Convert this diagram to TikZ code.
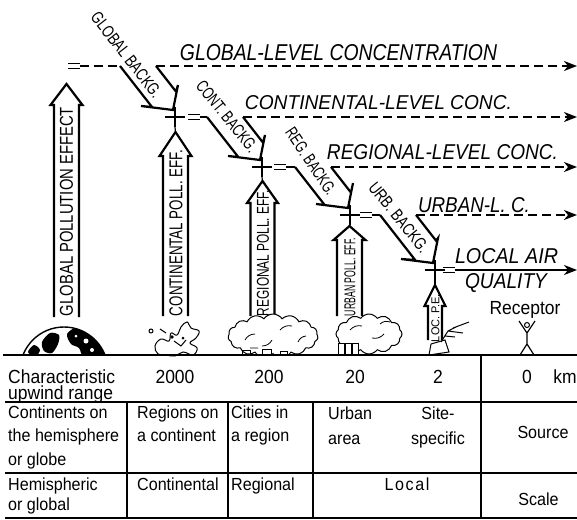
\documentclass[tikz,border=0pt]{standalone}
\usepackage{fontspec}
\setmainfont{Liberation Sans}[FakeStretch=0.92]
\usepackage{graphicx}
\usetikzlibrary{arrows.meta,calc,shapes.symbols}

\tikzset{
  conc/.style={line width=2.3pt, dash pattern=on 9pt off 5pt},
  endtip/.style={-{Stealth[length=13pt,width=10pt,inset=4pt]}},
  backg/.style={line width=2.2pt, line join=miter},
  effect/.style={line width=2.2pt},
  sign/.style={line width=1.2pt},
  plussign/.style={inner sep=0pt, minimum size=20pt},
  equal/.style={inner sep=0pt, minimum width=11pt, minimum height=4.5pt},
  tableline/.style={line width=1.6pt},
  cell/.style={inner sep=0pt, font=\fontsize{17.5}{20}\selectfont},
  lbl/.style={inner sep=0pt},
  smog/.style={cloud, draw, fill=white, line width=1pt, cloud puffs=15,
    cloud puff arc=110, cloud ignores aspect},
}

\begin{document}
\begin{tikzpicture}[x=1pt, y=-1pt]
\useasboundingbox (0,0) rectangle (577,519);

% sums where one level feeds the next
\node[equal] (eqG) at (74,66) {};
\node[plussign] (plusC) at (175,117) {};
\node[equal] (eqC) at (194,117) {};
\node[plussign] (plusR) at (262,167) {};
\node[equal] (eqR) at (280,167) {};
\node[plussign] (plusU) at (350,215) {};
\node[equal] (eqU) at (366,215) {};
\node[plussign] (plusL) at (435,270) {};
\node[equal] (eqL) at (449,270) {};
\foreach \n in {plusC,plusR,plusU,plusL}
  \draw[sign] (\n.north) -- (\n.south) (\n.west) -- (\n.east);
\foreach \n in {eqG,eqC,eqR,eqU,eqL}
  \draw[sign] (\n.north west) -- (\n.north east) (\n.south west) -- (\n.south east);

% background arrows coming down from each level
\foreach \p/\dy in {plusC/51, plusR/50, plusU/48, plusL/55} {
  \coordinate (\p-l) at ($(\p)+(-55,-\dy)$);
  \coordinate (\p-r) at ($(\p)+(-19,-\dy)$);
  \draw[backg] (\p-l) -- ($(\p)+({-55+(\dy-10)/1.28},-10)$) -- ($(\p)+(-34,-11)$)
    -- ($(\p)+(-2,-7)$) -- ($(\p)+(3,-32)$) -- ($(\p)+(1,{25.6-\dy})$) -- (\p-r);
}

% concentration levels
\coordinate (endG) at (577,66);
\coordinate (endC) at (577,117);
\coordinate (endR) at (577,167);
\coordinate (endU) at (577,215);
\coordinate (endL) at (577,270);
\draw[conc] (eqG) -- (plusC-l);
\draw[conc,endtip] (plusC-r) -- (endG);
\draw[backg] (eqC) -- (plusR-l);
\draw[conc,endtip] (plusR-r) -- (endC);
\draw[backg] (eqR) -- (plusU-l);
\draw[conc,endtip] (plusU-r) -- (endR);
\draw[backg] (eqU) -- (plusL-l);
\draw[conc,endtip] (plusL-r) -- (endU);
\draw[backg,endtip] (eqL) -- (endL);

% pollution effects going up
\foreach \n/\xm/\hw/\yb/\yh/\yt in {G/66.5/12.5/317/105/84, C/175.5/12.5/316/156/132,
    R/262.5/12/316/203/181, U/349.5/12.5/316/240/226, L/435/7/340/306/285} {
  \coordinate (tip\n) at (\xm,\yt);
  \draw[effect] ({\xm-\hw},\yb) -- ({\xm-\hw},\yh) -- ({\xm-\hw-3.5},\yh) -- (tip\n)
    -- ({\xm+\hw+3.5},\yh) -- ({\xm+\hw},\yh) -- ({\xm+\hw},\yb);
}
\foreach \n/\t in {plusC/tipC, plusR/tipR, plusU/tipU, plusL/tipL}
  \draw[sign] (\n.south) -- (\t);

% level names
\node[lbl] (lvG) at (338.5,53) {\resizebox{317pt}{16pt}{\itshape GLOBAL-LEVEL CONCENTRATION}};
\node[lbl] (lvC) at (378.5,103) {\resizebox{267pt}{14pt}{\itshape CONTINENTAL-LEVEL CONC.}};
\node[lbl] (lvR) at (442.5,152) {\resizebox{231pt}{15pt}{\itshape REGIONAL-LEVEL CONC.}};
\node[lbl] (lvU) at (474,205.5) {\resizebox{112pt}{15pt}{\itshape URBAN-L. C.}};
\node[lbl] (lvL) at (506.5,256.5) {\resizebox{103pt}{15pt}{\itshape LOCAL AIR}};
\node[lbl] (lvQ) at (506,283) {\resizebox{82pt}{15pt}{\itshape QUALITY}};

% arrow texts
\node[lbl, rotate=-52] (bgG) at (126.5,55) {\resizebox{104pt}{12pt}{GLOBAL BACKG.}};
\node[lbl, rotate=-51] (bgC) at (227,116.5) {\resizebox{87pt}{12pt}{CONT. BACKG.}};
\node[lbl, rotate=-56] (bgR) at (311,161.5) {\resizebox{77pt}{12pt}{REG. BACKG.}};
\node[lbl, rotate=-51] (bgU) at (399,217.5) {\resizebox{85pt}{12pt}{URB. BACKG.}};
\node[lbl, rotate=90] (efG) at (66.5,211.5) {\resizebox{209pt}{13pt}{GLOBAL POLLUTION EFFECT}};
\node[lbl, rotate=90] (efC) at (176,233) {\resizebox{166pt}{13pt}{CONTINENTAL POLL. EFF.}};
\node[lbl, rotate=90] (efR) at (263,253) {\resizebox{126pt}{12pt}{REGIONAL POLL. EFF.}};
\node[lbl, rotate=90] (efU) at (350,277) {\resizebox{78pt}{11pt}{URBAN POLL. EFF.}};
\node[lbl, rotate=90] (efL) at (435.5,318) {\resizebox{48pt}{8pt}{LOC. P.E.}};
\node[lbl, font=\fontsize{19}{22}\selectfont] (recv) at (525,310) {Receptor};

% globe
\begin{scope}
  \clip (0,0) rectangle (577,355);
  \draw[line width=1.4pt] (64,371) circle (44pt);
  \clip (64,371) circle (44pt);
  \fill plot[smooth cycle] coordinates {(42,342) (50,333) (59,335) (58,344) (52,353) (44,351)};
  \fill plot[smooth cycle] coordinates {(67,334) (77,327) (89,329) (99,338) (107,352)
    (99,358) (84,358) (79,348) (71,344)};
  \fill plot[smooth cycle] coordinates {(28,352) (34,345) (40,350) (35,357)};
  \fill[white] (86,341) circle (2.5pt) (92,350) circle (2pt) (76,336) circle (1.5pt);
\end{scope}

% continent
\filldraw[fill=white, line width=1pt] plot[smooth cycle, tension=0.7] coordinates {(158,354)
  (155,346) (161,339) (169,341) (171,333) (177,335) (181,327) (187,322) (191,328) (199,331)
  (196,338) (190,343) (197,348) (193,355) (183,352) (175,356) (166,355)};
\draw[line width=1pt] (151,331) circle (2pt) (160,329) -- (166,333) (174,341) -- (181,346) -- (186,340);
\fill (172,337) circle (1.8pt) (183,338) circle (1.5pt);

% smog over the region and the city
\begin{scope}
  \clip (0,0) rectangle (577,355);
  \node[smog, minimum width=90pt, minimum height=44pt] (smogR) at (273,336) {};
  \node[smog, minimum width=66pt, minimum height=40pt, cloud puffs=12] (smogU) at (369,334) {};
\end{scope}
\draw[line width=0.8pt] (245,340) to[bend left] (255,334) (262,346) to[bend right] (272,340)
  (280,330) to[bend left] (292,326) (298,342) to[bend left] (306,336) (250,348) -- (258,348)
  (350,330) to[bend left] (362,326) (372,338) to[bend right] (384,334) (380,324) to[bend left] (390,322);
\draw[line width=0.8pt] (242,350) rectangle ++(8,5) (262,349) rectangle ++(9,6) (280,351) rectangle ++(7,4);
\foreach \x in {338,345,352}
  \draw[fill=white, line width=1pt] (\x,343) rectangle ++(6,12);

% local source and receptor
\draw[fill=white, line width=1pt] (429,355) -- (431,344) -- (445,340) -- (449,352) -- cycle;
\draw[line width=1pt] (441,342) -- (448,331) -- (458,326) (448,331) -- (463,333)
  (453,328) -- (469,322) (445,336) -- (455,337);
\draw[line width=1.2pt] (519,321) -- (527,333) -- (535,321) (527,333) -- (527,344) -- (520,355)
  (527,344) -- (534,355);
\draw[line width=1pt] (527,325) circle (2.5pt);

% table
\draw[tableline] (3,355) -- (577,355);
\draw[tableline] (5,402) -- (577,402);
\draw[tableline] (5,473) -- (577,473);
\draw[tableline] (5,518) -- (577,518);
\draw[tableline] (481,355) -- (481,518);
\foreach \x in {127,228,313}
  \draw[tableline] (\x,402) -- (\x,518);

\foreach \x/\y/\txt [count=\i] in {8/383/Characteristic, 8/399/upwind range}
  \node[cell, anchor=base west, font=\fontsize{19}{22}\selectfont] (hd\i) at (\x,\y) {\txt};
\foreach \x/\txt [count=\i] in {175/2000, 269/200, 355/20, 438/2, 527/0, 565/km}
  \node[cell, anchor=base, font=\fontsize{19}{22}\selectfont] (km\i) at (\x,383) {\txt};
\foreach \x/\y/\txt [count=\i] in {8/418/Continents on, 8/441.5/the hemisphere, 8/465/or globe,
    137/418/Regions on, 137/441.5/a continent, 231/418/Cities in, 231/441.5/a region,
    328/419/Urban, 328/444/area, 8/490/Hemispheric, 8/510/or global,
    137/490/Continental, 231/490/Regional}
  \node[cell, anchor=base west] (lc\i) at (\x,\y) {\txt};
\foreach \x/\y/\txt [count=\i] in {438/419/Site-, 438/444/specific, 543/438/Source,
    538.5/505/Scale, 407/490/{L\kern1.6pt o\kern1.6pt c\kern1.6pt a\kern1.6pt l}}
  \node[cell, anchor=base] (cc\i) at (\x,\y) {\txt};
\end{tikzpicture}
\end{document}
